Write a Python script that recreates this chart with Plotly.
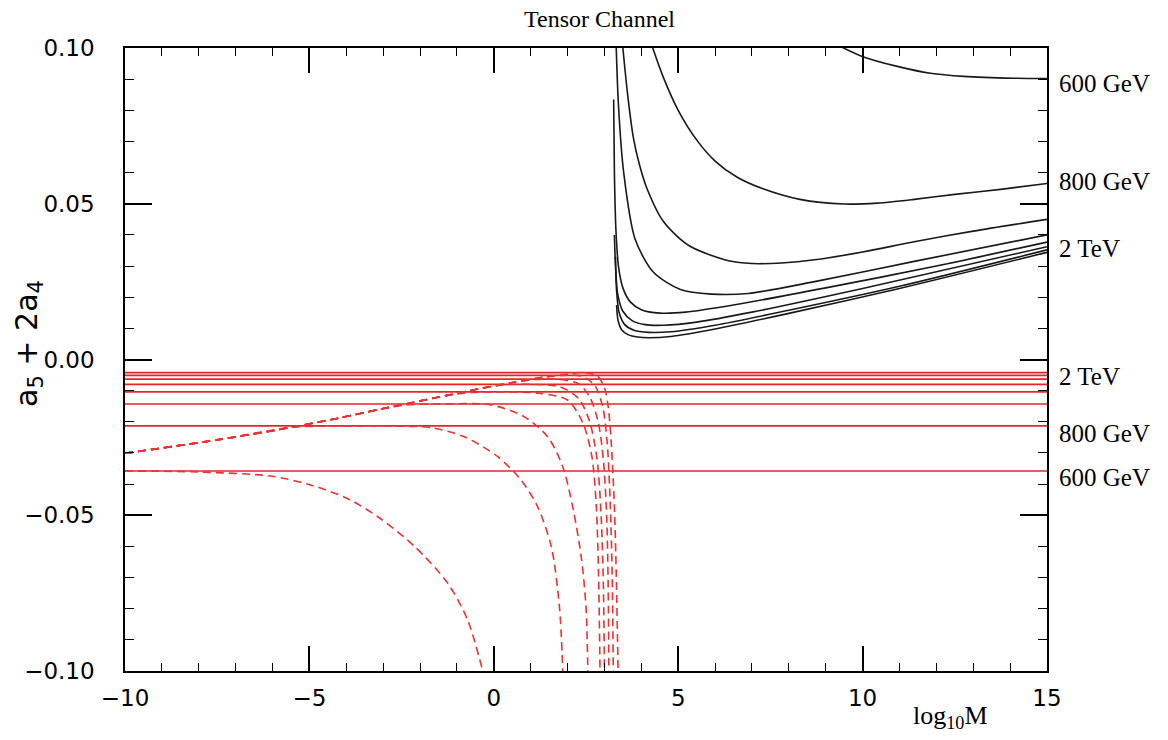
import plotly.graph_objects as go

# ---------------------------------------------------------------- data
masses = ["600 GeV", "800 GeV", "1 TeV", "1.2 TeV", "1.4 TeV", "1.6 TeV", "1.8 TeV", "2 TeV"]

# constant bounds (solid red), one per mass
red_levels = [-0.0358, -0.0213, -0.0143, -0.0104, -0.0080, -0.0063, -0.0051, -0.0042]

# shared rising branch of the dashed red curves
env_x = [-10, -7.5, -5.5, -4.2, -3.1, -2.2, -1.3, -0.4, 0.5, 1.4, 2.0]
env_y = [-0.0301, -0.0258, -0.0218, -0.0188, -0.0160, -0.0138, -0.0116, -0.0094, -0.0074, -0.0056, -0.0047]
# how many points of the shared branch each dashed curve follows
env_count = [0, 3, 5, 7, 8, 9, 10, 11]

# own branch of every dashed curve
d600_x = [-10, -8, -6, -4.9, -3.9, -3.06, -2.15, -1.25, -0.71, -0.30]
d600_y = [-0.0358, -0.0361, -0.0375, -0.0405, -0.0450, -0.0512, -0.0600, -0.0718, -0.0836, -0.1000]
d800_x = [-4.6, -3.5, -2.5, -1.7, -0.8, 0.11, 0.74, 1.19, 1.56, 1.78, 1.87]
d800_y = [-0.0214, -0.0213, -0.0214, -0.0219, -0.0248, -0.0312, -0.0387, -0.0473, -0.0601, -0.0794, -0.1000]
d1000_x = [-2.4, -1.5, -0.07, 0.83, 1.46, 1.87, 2.14, 2.37, 2.50, 2.55]
d1000_y = [-0.0146, -0.0143, -0.0146, -0.0184, -0.0248, -0.0344, -0.0473, -0.0633, -0.0794, -0.1000]
d1200_x = [-0.6, 0.3, 1.2, 2.0, 2.42, 2.66, 2.78, 2.84, 2.88]
d1200_y = [-0.0106, -0.0104, -0.0108, -0.0130, -0.0205, -0.0312, -0.0473, -0.0687, -0.1000]
d1400_x = [0.3, 1.1, 1.8, 2.3, 2.6, 2.8, 2.91, 2.97, 3.0]
d1400_y = [-0.0081, -0.0080, -0.0088, -0.0125, -0.0200, -0.0320, -0.0500, -0.0720, -0.1000]
d1600_x = [1.2, 1.8, 2.3, 2.6, 2.83, 2.97, 3.06, 3.10, 3.12]
d1600_y = [-0.0064, -0.0064, -0.0078, -0.0120, -0.0200, -0.0320, -0.0500, -0.0720, -0.1000]
d1800_x = [1.9, 2.4, 2.75, 2.95, 3.07, 3.16, 3.21, 3.24]
d1800_y = [-0.0051, -0.0054, -0.0085, -0.0150, -0.0260, -0.0470, -0.0690, -0.1000]
d2000_x = [2.4, 2.8, 3.0, 3.1, 3.18, 3.27, 3.32, 3.37]
d2000_y = [-0.0042, -0.0052, -0.0090, -0.0150, -0.0258, -0.0473, -0.0687, -0.1000]

# black curves (upper bounds)
b600_x = [9.40, 9.99, 10.94, 11.84, 12.74, 14.10, 15.0]
b600_y = [0.1005, 0.0973, 0.0941, 0.0919, 0.0909, 0.0903, 0.0902]
b800_x = [4.31, 4.6, 5.0, 5.5, 6.0, 6.6, 7.3, 8.3, 9.5, 10.4, 11.4, 12.5, 13.8, 15.0]
b800_y = [0.1000, 0.0905, 0.0800, 0.0705, 0.0637, 0.0585, 0.0548, 0.0514, 0.0499, 0.0502, 0.0514, 0.0530, 0.0547, 0.0565]
b1000_x = [3.50, 3.62, 3.78, 3.95, 4.15, 4.6, 5.3, 6.4, 7.0, 7.8, 8.7, 10.0, 11.4, 13.0, 15.0]
b1000_y = [0.1000, 0.0860, 0.0715, 0.0625, 0.0550, 0.0443, 0.0365, 0.0316, 0.0308, 0.0310, 0.0320, 0.0345, 0.0378, 0.0412, 0.0450]
b1200_x = [3.32, 3.38, 3.52, 3.83, 4.33, 5.06, 5.9, 6.9, 8.7, 11.4, 15.0]
b1200_y = [0.1000, 0.0817, 0.0602, 0.0387, 0.0280, 0.0225, 0.0210, 0.0212, 0.0250, 0.0315, 0.0400]
b1400_x = [3.25, 3.27, 3.31, 3.38, 3.5, 3.7, 4.0, 4.5, 5.2, 6.5, 9.0, 12.0, 15.0]
b1400_y = [0.0835, 0.0600, 0.0420, 0.0300, 0.0230, 0.0185, 0.0160, 0.0149, 0.0152, 0.0175, 0.0230, 0.0300, 0.0377]
b1600_x = [3.27, 3.30, 3.36, 3.5, 3.75, 4.1, 4.6, 5.5, 7.0, 10.0, 15.0]
b1600_y = [0.0400, 0.0300, 0.0210, 0.0155, 0.0125, 0.0112, 0.0110, 0.0120, 0.0152, 0.0228, 0.0362]
b1800_x = [3.30, 3.33, 3.40, 3.55, 3.8, 4.2, 4.8, 6.0, 8.0, 11.0, 15.0]
b1800_y = [0.0330, 0.0220, 0.0150, 0.0112, 0.0094, 0.0087, 0.0089, 0.0110, 0.0158, 0.0235, 0.0352]
b2000_x = [3.33, 3.37, 3.47, 3.65, 3.9, 4.2, 4.8, 6.0, 8.0, 11.0, 15.0]
b2000_y = [0.0175, 0.0125, 0.0095, 0.0079, 0.0072, 0.0070, 0.0074, 0.0098, 0.0148, 0.0228, 0.0344]

x_range = [-10, 15]
y_range = [-0.10, 0.10]

# ---------------------------------------------------------------- figure
RED = "rgb(228,38,38)"
DASHED_RED = "rgb(232,52,52)"
BLACK = "rgb(25,25,25)"

dashed = [(d600_x, d600_y), (d800_x, d800_y), (d1000_x, d1000_y), (d1200_x, d1200_y),
          (d1400_x, d1400_y), (d1600_x, d1600_y), (d1800_x, d1800_y), (d2000_x, d2000_y)]
solid_black = [(b600_x, b600_y), (b800_x, b800_y), (b1000_x, b1000_y), (b1200_x, b1200_y),
               (b1400_x, b1400_y), (b1600_x, b1600_y), (b1800_x, b1800_y), (b2000_x, b2000_y)]

fig = go.Figure()

for name, level in zip(masses, red_levels):
    fig.add_trace(go.Scatter(x=x_range, y=[level, level], mode="lines", name=name,
                             line=dict(color=RED, width=1.6), showlegend=False, hoverinfo="skip"))

for name, n, (tx, ty) in zip(masses, env_count, dashed):
    xs = env_x[:n] + tx
    ys = env_y[:n] + ty
    fig.add_trace(go.Scatter(x=xs, y=ys, mode="lines", name=name,
                             line=dict(color=DASHED_RED, width=1.6, dash="8px,5px",
                                       shape="spline", smoothing=0.8),
                             showlegend=False, hoverinfo="skip"))

for name, (bx, by) in zip(masses, solid_black):
    fig.add_trace(go.Scatter(x=bx, y=by, mode="lines", name=name,
                             line=dict(color=BLACK, width=1.6, shape="spline", smoothing=0.8),
                             showlegend=False, hoverinfo="skip"))

sans = "DejaVu Sans, Verdana, sans-serif"
serif = "Liberation Serif, Times New Roman, serif"
tick_font = dict(family=sans, size=23, color="black")

axis_common = dict(showline=True, linecolor="black", linewidth=1.5, mirror="ticks",
                   ticks="inside", tickcolor="black", tickwidth=1.5,
                   showgrid=False, zeroline=False, tickfont=tick_font)

fig.update_xaxes(range=x_range, dtick=5, tick0=0, ticklen=25, ticklabelstandoff=6,
                 minor=dict(dtick=1, ticklen=8, ticks="inside", tickcolor="black", tickwidth=1.2),
                 **axis_common)
fig.update_yaxes(range=y_range, dtick=0.05, tick0=0, ticklen=27, tickformat=".2f",
                 ticklabelstandoff=24,
                 minor=dict(dtick=0.01, ticklen=9, ticks="inside", tickcolor="black", tickwidth=1.2),
                 **axis_common)

annotations = [
    dict(text="Tensor Channel", x=0.515, y=1.0, xref="paper", yref="paper",
         xanchor="center", yanchor="bottom", yshift=14, showarrow=False,
         font=dict(family=serif, size=24, color="black")),
    dict(text="log<sub>10</sub>M", x=0.895, y=0.0, xref="paper", yref="paper",
         xanchor="center", yanchor="top", yshift=-28, showarrow=False,
         font=dict(family=serif, size=26, color="black")),
    dict(text="a<sub>5</sub> + 2a<sub>4</sub>", x=0.0, y=0.005, xref="paper", yref="y",
         xanchor="center", yanchor="middle", xshift=-96, textangle=-90, showarrow=False,
         font=dict(family=sans, size=30, color="black")),
]

# mass labels to the right of the frame
side_labels = [("600 GeV", b600_y[-1], -5), ("800 GeV", b800_y[-1], 2), ("2 TeV", b2000_y[-1], 4),
               ("2 TeV", red_levels[-1], -4), ("800 GeV", red_levels[1], -8), ("600 GeV", red_levels[0], -6)]
for text, yv, shift in side_labels:
    annotations.append(dict(text=text, x=1.0, y=yv, xref="paper", yref="y", xanchor="left",
                            yanchor="middle", xshift=10, yshift=shift, showarrow=False,
                            font=dict(family=serif, size=25, color="black")))

fig.update_layout(
    width=1168, height=740,
    margin=dict(l=125, r=121, t=48, b=69),
    plot_bgcolor="white", paper_bgcolor="white",
    annotations=annotations,
    showlegend=False,
)

fig.write_html("out.html")
